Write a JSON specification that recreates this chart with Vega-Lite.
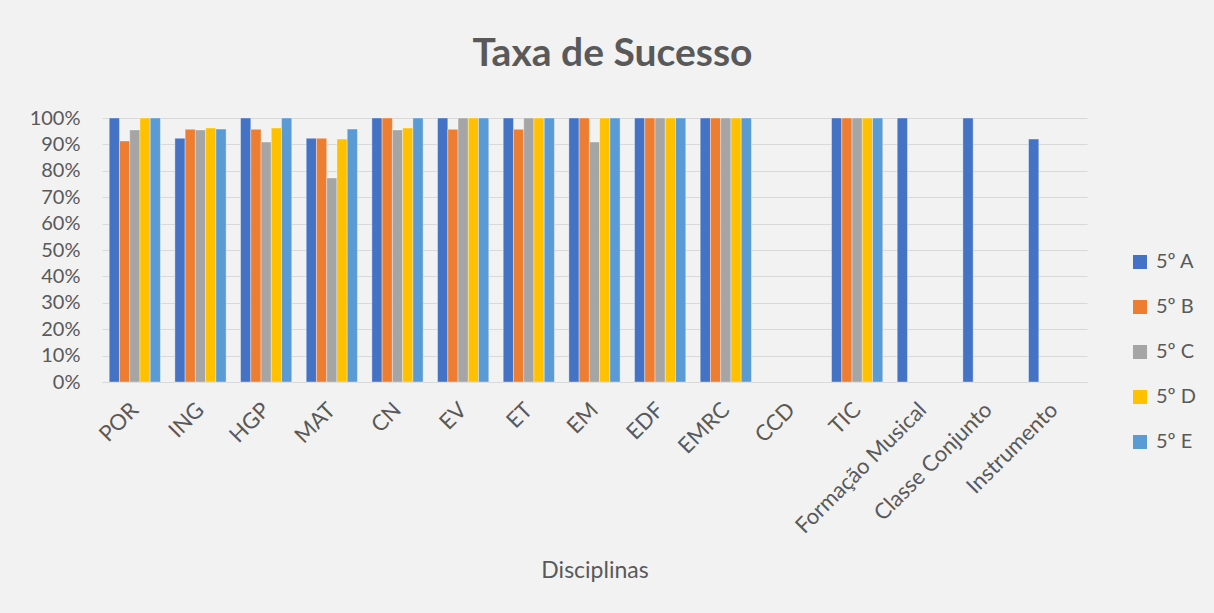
{
  "$schema": "https://vega.github.io/schema/vega-lite/v6.json",
  "width": 985,
  "height": 264,
  "autosize": {"type": "none"},
  "padding": {"left": 102, "top": 118, "right": 127, "bottom": 231},
  "background": "#F2F2F2",
  "title": {
    "text": "Taxa de Sucesso",
    "font": "Lato",
    "fontSize": 39,
    "fontWeight": "bold",
    "color": "#595959",
    "anchor": "middle",
    "baseline": "alphabetic",
    "offset": 3,
    "dx": 18
  },
  "data": {
    "values": [
      {"disciplina": "POR", "turma": "5º A", "taxa": 1.0},
      {"disciplina": "POR", "turma": "5º B", "taxa": 0.913},
      {"disciplina": "POR", "turma": "5º C", "taxa": 0.955},
      {"disciplina": "POR", "turma": "5º D", "taxa": 1.0},
      {"disciplina": "POR", "turma": "5º E", "taxa": 1.0},
      {"disciplina": "ING", "turma": "5º A", "taxa": 0.923},
      {"disciplina": "ING", "turma": "5º B", "taxa": 0.957},
      {"disciplina": "ING", "turma": "5º C", "taxa": 0.955},
      {"disciplina": "ING", "turma": "5º D", "taxa": 0.962},
      {"disciplina": "ING", "turma": "5º E", "taxa": 0.958},
      {"disciplina": "HGP", "turma": "5º A", "taxa": 1.0},
      {"disciplina": "HGP", "turma": "5º B", "taxa": 0.957},
      {"disciplina": "HGP", "turma": "5º C", "taxa": 0.909},
      {"disciplina": "HGP", "turma": "5º D", "taxa": 0.962},
      {"disciplina": "HGP", "turma": "5º E", "taxa": 1.0},
      {"disciplina": "MAT", "turma": "5º A", "taxa": 0.923},
      {"disciplina": "MAT", "turma": "5º B", "taxa": 0.923},
      {"disciplina": "MAT", "turma": "5º C", "taxa": 0.773},
      {"disciplina": "MAT", "turma": "5º D", "taxa": 0.92},
      {"disciplina": "MAT", "turma": "5º E", "taxa": 0.958},
      {"disciplina": "CN", "turma": "5º A", "taxa": 1.0},
      {"disciplina": "CN", "turma": "5º B", "taxa": 1.0},
      {"disciplina": "CN", "turma": "5º C", "taxa": 0.955},
      {"disciplina": "CN", "turma": "5º D", "taxa": 0.962},
      {"disciplina": "CN", "turma": "5º E", "taxa": 1.0},
      {"disciplina": "EV", "turma": "5º A", "taxa": 1.0},
      {"disciplina": "EV", "turma": "5º B", "taxa": 0.957},
      {"disciplina": "EV", "turma": "5º C", "taxa": 1.0},
      {"disciplina": "EV", "turma": "5º D", "taxa": 1.0},
      {"disciplina": "EV", "turma": "5º E", "taxa": 1.0},
      {"disciplina": "ET", "turma": "5º A", "taxa": 1.0},
      {"disciplina": "ET", "turma": "5º B", "taxa": 0.957},
      {"disciplina": "ET", "turma": "5º C", "taxa": 1.0},
      {"disciplina": "ET", "turma": "5º D", "taxa": 1.0},
      {"disciplina": "ET", "turma": "5º E", "taxa": 1.0},
      {"disciplina": "EM", "turma": "5º A", "taxa": 1.0},
      {"disciplina": "EM", "turma": "5º B", "taxa": 1.0},
      {"disciplina": "EM", "turma": "5º C", "taxa": 0.909},
      {"disciplina": "EM", "turma": "5º D", "taxa": 1.0},
      {"disciplina": "EM", "turma": "5º E", "taxa": 1.0},
      {"disciplina": "EDF", "turma": "5º A", "taxa": 1.0},
      {"disciplina": "EDF", "turma": "5º B", "taxa": 1.0},
      {"disciplina": "EDF", "turma": "5º C", "taxa": 1.0},
      {"disciplina": "EDF", "turma": "5º D", "taxa": 1.0},
      {"disciplina": "EDF", "turma": "5º E", "taxa": 1.0},
      {"disciplina": "EMRC", "turma": "5º A", "taxa": 1.0},
      {"disciplina": "EMRC", "turma": "5º B", "taxa": 1.0},
      {"disciplina": "EMRC", "turma": "5º C", "taxa": 1.0},
      {"disciplina": "EMRC", "turma": "5º D", "taxa": 1.0},
      {"disciplina": "EMRC", "turma": "5º E", "taxa": 1.0},
      {"disciplina": "TIC", "turma": "5º A", "taxa": 1.0},
      {"disciplina": "TIC", "turma": "5º B", "taxa": 1.0},
      {"disciplina": "TIC", "turma": "5º C", "taxa": 1.0},
      {"disciplina": "TIC", "turma": "5º D", "taxa": 1.0},
      {"disciplina": "TIC", "turma": "5º E", "taxa": 1.0},
      {"disciplina": "Formação Musical", "turma": "5º A", "taxa": 1.0},
      {"disciplina": "Classe Conjunto", "turma": "5º A", "taxa": 1.0},
      {"disciplina": "Instrumento", "turma": "5º A", "taxa": 0.92}
    ]
  },
  "mark": {"type": "bar", "stroke": "#FFFFFF", "strokeWidth": 0.6, "strokeOpacity": 0.6},
  "encoding": {
    "x": {
      "field": "disciplina",
      "type": "nominal",
      "sort": null,
      "scale": {
        "domain": ["POR", "ING", "HGP", "MAT", "CN", "EV", "ET", "EM", "EDF", "EMRC", "CCD", "TIC", "Formação Musical", "Classe Conjunto", "Instrumento"],
        "paddingInner": 0.22,
        "paddingOuter": 0.11
      },
      "axis": {
        "title": "Disciplinas",
        "titleFont": "Lato",
        "titleFontSize": 23,
        "titleFontWeight": "normal",
        "titleColor": "#595959",
        "titleY": 195,
        "titleBaseline": "alphabetic",
        "labelAngle": -45,
        "labelAlign": "right",
        "labelBaseline": "middle",
        "labelFont": "Lato",
        "labelFontSize": 22,
        "labelColor": "#595959",
        "labelPadding": 24,
        "ticks": false,
        "domainColor": "#D9D9D9",
        "domainWidth": 1,
        "grid": false
      }
    },
    "xOffset": {
      "field": "turma",
      "type": "nominal",
      "scale": {"paddingInner": 0, "paddingOuter": 0}
    },
    "y": {
      "field": "taxa",
      "type": "quantitative",
      "scale": {"domain": [0, 1], "nice": false},
      "axis": {
        "title": null,
        "format": ".0%",
        "values": [0, 0.1, 0.2, 0.3, 0.4, 0.5, 0.6, 0.7, 0.8, 0.9, 1.0],
        "labelFont": "Lato",
        "labelFontSize": 20,
        "labelColor": "#595959",
        "labelPadding": 22,
        "ticks": false,
        "domain": false,
        "grid": true,
        "gridColor": "#D9D9D9",
        "gridWidth": 1
      }
    },
    "color": {
      "field": "turma",
      "type": "nominal",
      "scale": {
        "domain": ["5º A", "5º B", "5º C", "5º D", "5º E"],
        "range": ["#4472C4", "#ED7D31", "#A5A5A5", "#FFC000", "#5B9BD5"]
      },
      "legend": {
        "title": null,
        "orient": "none",
        "legendX": 1028,
        "legendY": 134,
        "symbolType": "square",
        "symbolSize": 196,
        "symbolStrokeWidth": 0,
        "labelFont": "Lato",
        "labelFontSize": 20,
        "labelColor": "#595959",
        "labelOffset": 6,
        "rowPadding": 25
      }
    }
  },
  "config": {
    "view": {"stroke": null}
  }
}
